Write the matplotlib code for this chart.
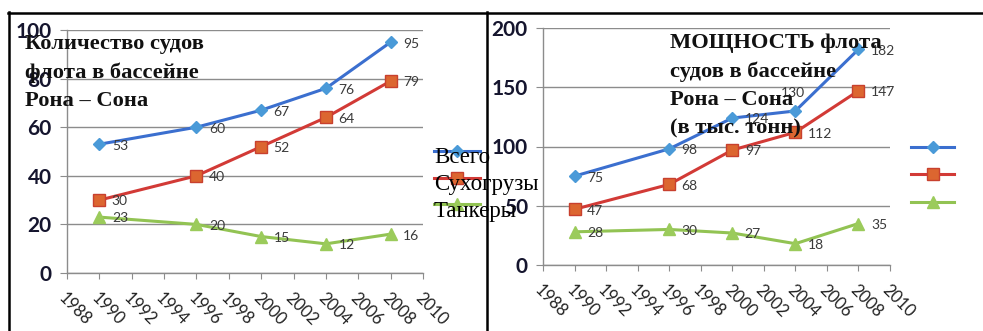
"""Fleet of the Rhône–Saône basin: vessel count and capacity, two line panels."""

import matplotlib
matplotlib.use("Agg")
import matplotlib.pyplot as plt
from matplotlib.lines import Line2D
from matplotlib.legend_handler import HandlerLine2D

# ---- data -------------------------------------------------------------
YEARS = [1990, 1996, 2000, 2004, 2008]
SERIES_NAMES = ["Всего", "Сухогрузы", "Танкеры"]

COUNT_TOTAL = [53, 60, 67, 76, 95]
COUNT_DRY = [30, 40, 52, 64, 79]
COUNT_TANKER = [23, 20, 15, 12, 16]

POWER_TOTAL = [75, 98, 124, 130, 182]
POWER_DRY = [47, 68, 97, 112, 147]
POWER_TANKER = [28, 30, 27, 18, 35]

LEFT_TITLE = "Количество судов\nфлота в бассейне\nРона – Сона"
RIGHT_TITLE = "МОЩНОСТЬ флота\nсудов в бассейне\nРона – Сона\n(в тыс. тонн)"

# ---- style ------------------------------------------------------------
W, H = 983, 331
SANS = ["Lato", "DejaVu Sans"]
SERIF = ["Liberation Serif", "DejaVu Serif"]
GRID = "#8c8c8c"
LABEL_COLOR = "#3a3a3a"

STYLES = [
    dict(color="#3b6fcf", marker="D", markersize=6.5, mfc="#4a9ad8", mec="#4a9ad8"),
    dict(color="#d23a36", marker="s", markersize=8, mfc="#dc6630", mec="#c8402e"),
    dict(color="#92c353", marker="^", markersize=9, mfc="#9bcb5b", mec="#9bcb5b"),
]


class RaisedLine(HandlerLine2D):
    """Legend line drawn a bit above the text centre, like the original."""

    def __init__(self, dy, **kw):
        super().__init__(**kw)
        self.dy = dy

    def create_artists(self, legend, orig_handle, xdescent, ydescent,
                       width, height, fontsize, trans):
        return super().create_artists(legend, orig_handle, xdescent,
                                      ydescent - 2 * self.dy, width, height,
                                      fontsize, trans)


def px(x, y):
    return x / W, 1 - y / H


def style_axes(ax, ymax, ystep):
    ax.set_xlim(1988, 2010)
    ax.set_ylim(0, ymax)
    ax.set_xticks(range(1988, 2011, 2))
    ax.set_yticks(range(0, ymax + 1, ystep))
    ax.grid(axis="y", color=GRID, linewidth=1)
    ax.set_axisbelow(True)
    for side in ("top", "right"):
        ax.spines[side].set_visible(False)
    for side in ("left", "bottom"):
        ax.spines[side].set_color(GRID)
        ax.spines[side].set_linewidth(1)
    ax.tick_params(axis="x", direction="out", length=4, color=GRID,
                   labelsize=12, pad=8, labelcolor="#222222")
    ax.tick_params(axis="y", direction="out", length=5, color=GRID,
                   labelsize=15, pad=6)
    for lab in ax.get_xticklabels():
        lab.set_rotation(-45)
        lab.set_ha("left")
        lab.set_va("top")
        lab.set_rotation_mode("anchor")
        lab.set_fontfamily(SANS)
    for lab in ax.get_yticklabels():
        lab.set_fontweight("bold")
        lab.set_color("#15152e")
        lab.set_fontfamily(SANS)


def draw_series(ax, series, special=None):
    special = special or {}
    handles = []
    for values, st in zip(series, STYLES):
        h, = ax.plot(YEARS, values, linewidth=2.2, clip_on=False, **st)
        handles.append(h)
        for x, v in zip(YEARS, values):
            off, ha = special.get(v, ((9, -1), "left"))
            ax.annotate(str(v), (x, v), xytext=off, textcoords="offset points",
                        ha=ha, va="center", fontsize=10, color=LABEL_COLOR,
                        family=SANS)
    return handles


fig = plt.figure(figsize=(W / 100, H / 100), dpi=100)
fig.patch.set_facecolor("white")

# left panel
ax1 = fig.add_axes([67 / W, 1 - 273 / H, (423 - 67) / W, (273 - 30) / H])
style_axes(ax1, 100, 20)
h1 = draw_series(ax1, [COUNT_TOTAL, COUNT_DRY, COUNT_TANKER])
fig.text(*px(25, 34), LEFT_TITLE, family=SERIF, fontweight="bold",
         fontsize=16.2, va="top", ha="left", linespacing=1.55, color="#111111")
fig.legend(h1, SERIES_NAMES, loc="upper left", bbox_to_anchor=px(434, 147),
           frameon=False, prop=dict(family=SERIF, size=16.5),
           handlelength=2.0, handletextpad=-2.0, labelspacing=0.25,
           borderpad=0, borderaxespad=0,
           handler_map={h: RaisedLine(3) for h in h1})

# right panel
ax2 = fig.add_axes([543 / W, 1 - 265 / H, (890 - 543) / W, (265 - 28) / H])
style_axes(ax2, 200, 50)
h2 = draw_series(ax2, [POWER_TOTAL, POWER_DRY, POWER_TANKER],
                 special={130: ((-2, 13), "center")})
fig.text(*px(670, 33), RIGHT_TITLE, family=SERIF, fontweight="bold",
         fontsize=16.2, va="top", ha="left", linespacing=1.55, color="#111111")
fig.legend(h2, ["", "", ""], loc="upper left", bbox_to_anchor=px(911, 139),
           frameon=False, prop=dict(family=SERIF, size=15.5),
           handlelength=2.0, handletextpad=0, labelspacing=0.35,
           borderpad=0, borderaxespad=0)

# frame lines of the two panels
for xs, ys in [((8, W), (12.5, 12.5)), ((8.5, 8.5), (12, H)),
               ((487, 487), (12, H))]:
    fig.add_artist(Line2D([x / W for x in xs], [1 - y / H for y in ys],
                          color="black", linewidth=1.8))

fig.savefig("out.png", dpi=100)
